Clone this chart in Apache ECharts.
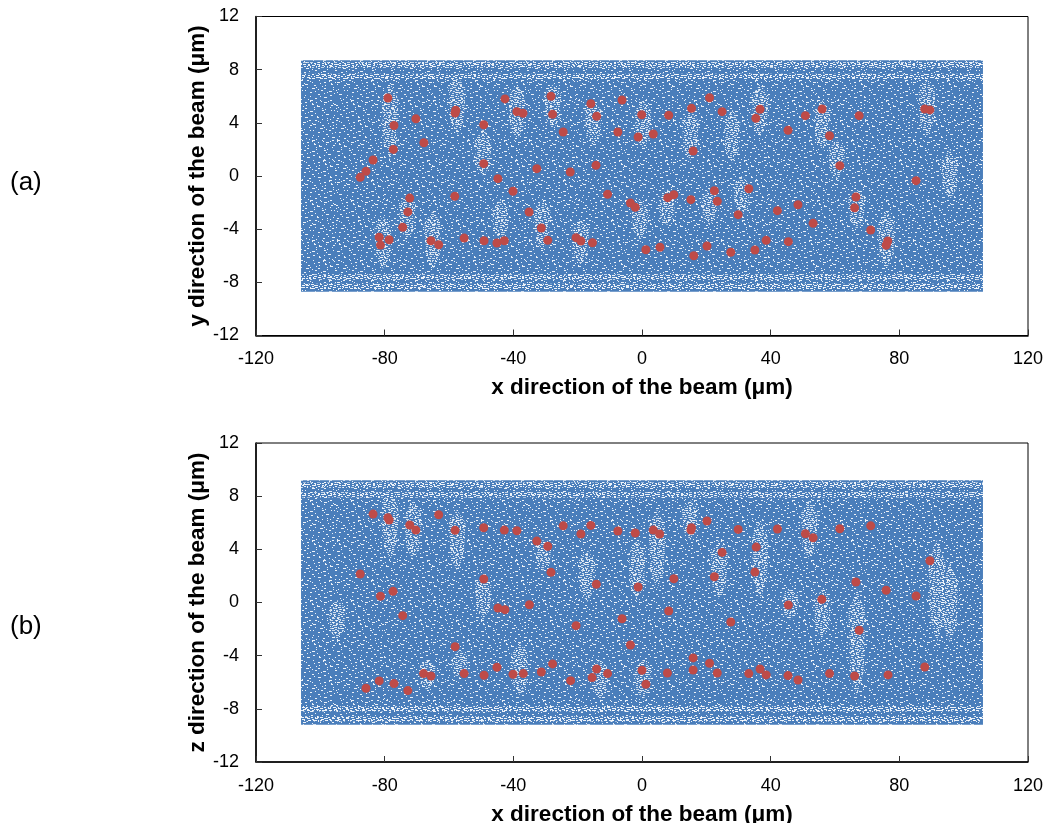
<!DOCTYPE html>
<html>
<head>
<meta charset="utf-8">
<style>html,body{margin:0;padding:0;background:#fff}#c{width:1048px;height:823px}</style>
<script src="https://cdn.jsdelivr.net/npm/echarts@6/dist/echarts.min.js"></script>
</head>
<body>
<div id="c"></div>
<script>
const xTicks = [-120, -80, -40, 0, 40, 80, 120];
const yTicks = [-12, -8, -4, 0, 4, 8, 12];
const xName = 'x direction of the beam (μm)';
const yNameA = 'y direction of the beam (μm)';
const yNameB = 'z direction of the beam (μm)';

// Red points: [x, y]
const redA = [[-79,5.87],[-77.1,3.8],[-70.3,4.3],[-67.8,2.5],[-77.3,2],[-83.6,1.2],[-85.8,0.35],[-87.6,-0.1],[-57.9,4.95],[-58.1,4.74],[-49.2,3.86],[-49.2,0.93],[-42.6,5.8],[-44.8,-0.2],[-72.2,-1.66],[-72.8,-2.7],[-74.4,-3.86],[-81.7,-4.6],[-81.3,-5.2],[-78.6,-4.8],[-65.6,-4.87],[-63.2,-5.17],[-55.3,-4.67],[-49.1,-4.87],[-45.1,-5.04],[-42.8,-4.87],[-58.2,-1.53],[-38.9,4.84],[-37,4.72],[-28.3,6],[-27.8,4.64],[-24.5,3.31],[-15.9,5.44],[-14.1,4.49],[-6.2,5.72],[-0.1,4.61],[8.3,4.57],[15.4,5.09],[21,5.89],[24.9,4.84],[-7.5,3.31],[-1.2,2.93],[3.5,3.16],[15.9,1.88],[-32.7,0.55],[-22.3,0.3],[-14.3,0.8],[35.4,4.34],[36.7,5.02],[-40.1,-1.15],[-35.1,-2.71],[-31.3,-3.91],[-29.3,-4.84],[-20.5,-4.64],[-19,-4.89],[-15.4,-5.02],[-10.7,-1.38],[-3.6,-2.03],[-2.1,-2.36],[1.2,-5.55],[5.6,-5.36],[8,-1.63],[9.9,-1.41],[15.2,-1.78],[22.5,-1.11],[23.4,-1.9],[29.9,-2.91],[33.2,-0.96],[16.1,-6],[20.2,-5.27],[27.6,-5.74],[35.1,-5.57],[50.8,4.54],[56,5.04],[67.5,4.54],[45.4,3.44],[58.3,3.03],[61.5,0.78],[87.9,5.04],[89.5,4.97],[85.2,-0.35],[66.5,-1.58],[66.1,-2.39],[71.1,-4.06],[76.4,-4.89],[75.9,-5.21],[48.5,-2.16],[42.1,-2.61],[53.2,-3.56],[38.6,-4.84],[45.5,-4.94]];
const redB = [[-83.6,6.65],[-79,6.38],[-78.6,6.2],[-72.2,5.83],[-70.3,5.45],[-63.2,6.6],[-58.1,5.43],[-49.2,5.62],[-42.8,5.45],[-87.6,2.14],[-49.2,1.77],[-77.4,0.84],[-81.3,0.47],[-74.4,-0.99],[-44.8,-0.41],[-42.6,-0.54],[-58.1,-3.32],[-67.9,-5.35],[-65.6,-5.53],[-55.3,-5.35],[-49.1,-5.47],[-45.1,-4.87],[-81.7,-5.9],[-77.1,-6.1],[-85.8,-6.45],[-72.8,-6.63],[-38.9,5.4],[-32.7,4.62],[-29.3,4.23],[-24.5,5.77],[-19,5.15],[-15.9,5.8],[-7.5,5.38],[-2.1,5.23],[3.5,5.45],[5.5,5.15],[15.4,5.62],[15.2,5.45],[20.2,6.13],[29.9,5.5],[35.5,4.17],[24.9,3.77],[-28.3,2.27],[-14.2,1.37],[-1.2,1.17],[9.9,1.79],[22.5,1.94],[35.1,2.29],[-35,-0.17],[-20.5,-1.74],[-6.2,-1.22],[-3.6,-3.2],[8.3,-0.64],[27.6,-1.47],[-27.8,-4.62],[-31.3,-5.23],[-36.9,-5.35],[-40.1,-5.4],[-22.2,-5.88],[-14.1,-5],[-15.5,-5.65],[-10.7,-5.35],[0,-5.1],[1.2,-6.15],[7.9,-5.3],[15.9,-4.17],[15.9,-5.08],[21,-4.57],[23.4,-5.3],[33.2,-5.35],[36.7,-5],[42.1,5.53],[50.8,5.17],[53.2,4.87],[61.5,5.55],[71.1,5.77],[89.5,3.14],[66.5,1.54],[75.9,0.92],[85.2,0.49],[45.5,-0.19],[55.9,0.24],[67.5,-2.09],[87.9,-4.85],[38.6,-5.45],[45.4,-5.5],[48.5,-5.83],[58.3,-5.35],[66.1,-5.53],[76.5,-5.45]];

// Blue cloud, summarised: overall extent [xMin, xMax, yMin, yMax]
const bandA = [[-106, 106, -8.7, 8.7]];
const bandB = [[-106, 106, -9.2, 9.2]];
// Sparse horizontal rows in the cloud (y)
const gapRowsA = [8.35, 7.5, -7.6, -8.3];
const gapRowsB = [8.83, 8.1, -8.0, -8.76];
// Sparse vertical streaks: [xCentre, yBottom, yTop]
const streaksA = [[-78.3,1.2,7],[-57.5,3.1,7.6],[-49.4,0,3.5],[-80.5,-7,-3],[-73,-4.8,-1.4],[-65,-7,-2.6],[-44,-4.8,-1.8],[-38.9,2.7,6.9],[-27.7,3.5,6.9],[-15.2,2.3,5.7],[0.3,2,5.7],[15,1.2,5],[28,1,5],[-19,-6.7,-3.3],[-31,-5.6,-1.8],[-0.6,-4.8,-1.8],[7.8,-3.7,-1],[21,-3.7,-1],[31,-3,0],[36.7,3,6.9],[56,2,5.7],[60.6,-0.3,2.7],[66.8,-4,-1],[76,-7,-2.6],[88.6,3,7.2],[95.7,-1.8,2]];
const streaksB = [[-78.3,3.2,8.5],[-71.2,3.2,7.7],[-57.5,2.4,7],[-49.4,-1.3,2.1],[-94.8,-2.8,0.2],[-66.8,-6.6,-4.3],[-56.6,-5.8,-3.6],[-30.8,2.4,4.7],[-17.1,0,4],[-1.5,0.2,4.7],[4.7,1,7],[15,4.7,7.7],[24,0.2,4.7],[-13,-7.3,-4.3],[0.3,-7.3,-4.3],[-38,-7,-3],[52,3.2,7.7],[36.7,0.2,6.2],[46,-1.3,1],[56,-2.8,1],[66.8,-7,1],[91.7,-3,4.7],[95.7,-3,3]];
const streakHalfWidth = 2.6;
const rowHalfHeight = 0.2;

// Hand-drawn tiles used only as a fill texture for the cloud
const tileSparse = [
'..##..........#.........###.......#.........##..',
'.....#..................#..........#......#.....',
'.......#...........##.........#.......###.......',
'...............#..........#....................#',
'###.......................##..........#.........',
'.........##.........#..........#.............##.',
'.................#.............###..............',
'..#........#................#...............#...',
'.......###.........##...............#...........',
'.............#..............#..........#........',
'#...............##..................##.......#..',
'..........#.............###.....................',
'.....##...............#...............#.........',
'...................#.........#..................',
'.............##.........................###.....',
'#........................##.........#...........',
'.....#.........#...............#................',
'...................###.........##..............#',
'..........##.............................#......',
'...#................................#.......#...'
];
const tileDense = [
'.###..##...#.##...',
'.......#.....#..##',
'##.###....###.....',
'....#..##......##.',
'.##.....#.###.....',
'.....###.......##.',
'#..#.......##.....',
'.....##..#....###.',
'.###.....###......',
'......##.......###'
];
// Hand-picked horizontal offsets, used to keep the tile's repeat from showing
const tileOffsets = [0, 17, 31, 9, 41, 23, 5, 37, 13, 29, 2, 19];
function makeTile(rows, alpha, nx, ny) {
  const w = rows[0].length, h = rows.length;
  const c = document.createElement('canvas');
  c.width = w * nx; c.height = h * ny;
  const g = c.getContext('2d');
  g.fillStyle = 'rgba(255,255,255,' + alpha + ')';
  for (let by = 0; by < ny; by++) for (let bx = 0; bx < nx; bx++) {
    const off = tileOffsets[(bx * 5 + by * 7) % tileOffsets.length];
    rows.forEach((r, y) => {
      for (let x = 0; x < w; x++) if (r[(x + off) % w] === '#') g.fillRect(bx * w + x, by * h + y, 1, 1);
    });
  }
  return c;
}
const sparsePattern = { image: makeTile(tileSparse, 0.9, 4, 5), repeat: 'repeat' };
const densePattern = { image: makeTile(tileDense, 0.9, 6, 6), repeat: 'repeat' };

function bandSeries(data, i) {
  return {
    type: 'custom', xAxisIndex: i, yAxisIndex: i, silent: true,
    encode: { x: [0, 1], y: [2, 3] }, data,
    renderItem(params, api) {
      const a = api.coord([api.value(0), api.value(3)]);
      const b = api.coord([api.value(1), api.value(2)]);
      const shape = { x: a[0], y: a[1], width: b[0] - a[0], height: b[1] - a[1] };
      return { type: 'group', children: [
        { type: 'rect', shape, style: { fill: '#4a7ebb' } },
        { type: 'rect', shape, style: { fill: sparsePattern } }
      ] };
    }
  };
}
function rowSeries(rows, i) {
  return {
    type: 'custom', xAxisIndex: i, yAxisIndex: i, silent: true,
    encode: { x: [0, 1], y: [2, 3] },
    data: rows.map(y => [bandA[0][0], bandA[0][1], y - rowHalfHeight, y + rowHalfHeight]),
    renderItem(params, api) {
      const a = api.coord([api.value(0), api.value(3)]);
      const b = api.coord([api.value(1), api.value(2)]);
      return { type: 'rect', shape: { x: a[0], y: a[1], width: b[0] - a[0], height: b[1] - a[1] }, style: { fill: densePattern } };
    }
  };
}
function streakSeries(data, i) {
  return {
    type: 'custom', xAxisIndex: i, yAxisIndex: i, silent: true,
    encode: { x: 0, y: [1, 2] }, data,
    renderItem(params, api) {
      const cx = api.value(0), lo = api.value(1), hi = api.value(2), t = (hi - lo) * 0.22;
      const pts = [[cx, hi], [cx + streakHalfWidth, hi - t], [cx + streakHalfWidth * 0.8, lo + t], [cx, lo],
        [cx - streakHalfWidth * 0.8, lo + t], [cx - streakHalfWidth, hi - t]].map(p => api.coord(p));
      return { type: 'polygon', shape: { points: pts }, style: { fill: densePattern, opacity: 0.8 } };
    }
  };
}
function panel(i, band, streaks, rows, red) {
  return [
    bandSeries(band, i),
    streakSeries(streaks, i),
    rowSeries(rows, i),
    { type: 'scatter', xAxisIndex: i, yAxisIndex: i, data: red, symbol: 'circle', symbolSize: 9,
      itemStyle: { color: '#be4b48', opacity: 1 } }
  ];
}
const font = 'Liberation Sans';
function xAxis(i) {
  return { type: 'value', gridIndex: i, min: xTicks[0], max: xTicks[xTicks.length - 1], interval: xTicks[1] - xTicks[0],
    splitLine: { show: false },
    axisLine: { onZero: false, lineStyle: { color: '#000', width: 1.5 } },
    axisTick: { inside: true, length: 6, lineStyle: { color: '#333', width: 1 } },
    axisLabel: { color: '#000', fontFamily: font, fontSize: 18, margin: 15 },
    name: xName, nameLocation: 'middle', nameGap: 41, nameMoveOverlap: false,
    nameTextStyle: { color: '#000', fontFamily: font, fontSize: 22.5, fontWeight: 'bold' } };
}
function yAxis(i, name) {
  return { type: 'value', gridIndex: i, min: yTicks[0], max: yTicks[yTicks.length - 1], interval: yTicks[1] - yTicks[0],
    splitLine: { show: false },
    axisLine: { onZero: false, lineStyle: { color: '#000', width: 1.5 } },
    axisTick: { inside: true, length: 6, lineStyle: { color: '#333', width: 1 } },
    axisLabel: { color: '#000', fontFamily: font, fontSize: 18, margin: 17 },
    name, nameLocation: 'middle', nameGap: 47, nameMoveOverlap: false,
    nameTextStyle: { color: '#000', fontFamily: font, fontSize: 22.5, fontWeight: 'bold' } };
}
const chart = echarts.init(document.getElementById('c'), null, { renderer: 'canvas' });
chart.setOption({
  animation: false,
  backgroundColor: '#fff',
  grid: [
    { left: 256, width: 772, top: 16.5, height: 319, show: true, borderColor: '#000', borderWidth: 1, backgroundColor: 'transparent', outerBoundsMode: 'none' },
    { left: 256, width: 772, top: 443, height: 319, show: true, borderColor: '#000', borderWidth: 1, backgroundColor: 'transparent', outerBoundsMode: 'none' }
  ],
  xAxis: [xAxis(0), xAxis(1)],
  yAxis: [yAxis(0, yNameA), yAxis(1, yNameB)],
  series: [...panel(0, bandA, streaksA, gapRowsA, redA), ...panel(1, bandB, streaksB, gapRowsB, redB)],
  graphic: [
    { type: 'text', left: 10, top: 170, style: { text: '(a)', font: '26px "Liberation Sans"', fill: '#000' } },
    { type: 'text', left: 10, top: 614, style: { text: '(b)', font: '26px "Liberation Sans"', fill: '#000' } }
  ]
});
</script>
</body>
</html>
